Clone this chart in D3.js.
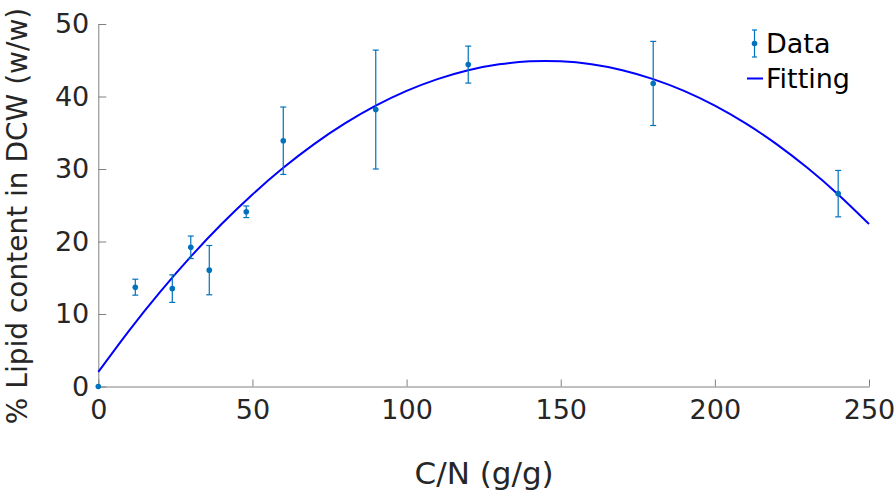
<!DOCTYPE html>
<html><head><meta charset="utf-8">
<script src="https://cdn.jsdelivr.net/npm/d3@7"></script>
<style>body{margin:0;background:#fff}svg{display:block}text{font-family:"DejaVu Sans",sans-serif}</style>
</head><body><svg id="c" width="896" height="493"></svg>
<script>
const cnRatio = [0, 12, 24, 30, 36, 48, 60, 90, 120, 180, 240];
const lipid   = [0, 13.7, 13.5, 19.2, 16.05, 24.1, 33.9, 38.2, 44.4, 41.8, 26.6];
const lipidErr= [0, 1.1, 1.9, 1.55, 3.4, 0.8, 4.65, 8.2, 2.55, 5.8, 3.2];
const fitX = [0,10,20,30,40,50,60,70,80,90,100,110,120,130,140,150,160,170,180,190,200,210,220,230,240,250];
const fitY = [2.01,7.72,13.03,17.92,22.41,26.49,30.16,33.43,36.28,38.73,40.77,42.40,43.63,44.44,44.85,44.85,44.44,43.63,42.40,40.77,38.73,36.28,33.43,30.16,26.49,22.41];
const xTicks = [0,50,100,150,200,250];
const yTicks = [0,10,20,30,40,50];
const legendLabels = ["Data","Fitting"];

const svg = d3.select("#c");
const x = d3.scaleLinear().domain([0,250]).range([98.3,869]);
const y = d3.scaleLinear().domain([0,50]).range([386.5,24]);
const axisCol = "#808080", textCol = "#262626";
const dataCol = "#0072BD", fitCol = "#0000FF";

// axes
const gx = svg.append("g").attr("transform",`translate(0,${y(0)})`)
  .call(d3.axisBottom(x).tickValues(xTicks).tickSize(-7).tickPadding(13).tickSizeOuter(0));
const gy = svg.append("g").attr("transform",`translate(${x(0)},0)`)
  .call(d3.axisLeft(y).tickValues(yTicks).tickSize(-8).tickPadding(9).tickSizeOuter(0));
[gx,gy].forEach(g=>{
  g.select(".domain").attr("stroke",axisCol).attr("stroke-width",1);
  g.selectAll(".tick line").attr("stroke",axisCol).attr("stroke-width",1);
  g.selectAll(".tick text").attr("fill",textCol).attr("font-size",27).attr("font-family","DejaVu Sans");
});
gx.selectAll(".tick text").attr("dy","0.71em");

// fit curve
svg.append("path").datum(fitX.map((v,i)=>[v,fitY[i]]))
  .attr("d", d3.line().x(d=>x(d[0])).y(d=>y(d[1])).curve(d3.curveNatural))
  .attr("fill","none").attr("stroke",fitCol).attr("stroke-width",2);

// error bars + points
const pts = cnRatio.map((v,i)=>({x:v,y:lipid[i],e:lipidErr[i]}));
const eb = svg.append("g").attr("stroke",dataCol).attr("stroke-width",1.2);
pts.filter(d=>d.e>0).forEach(d=>{
  const cx = x(d.x);
  eb.append("line").attr("x1",cx).attr("x2",cx).attr("y1",y(d.y-d.e)).attr("y2",y(d.y+d.e));
  eb.append("line").attr("x1",cx-3).attr("x2",cx+3).attr("y1",y(d.y-d.e)).attr("y2",y(d.y-d.e));
  eb.append("line").attr("x1",cx-3).attr("x2",cx+3).attr("y1",y(d.y+d.e)).attr("y2",y(d.y+d.e));
});
svg.append("g").selectAll("circle").data(pts).join("circle")
  .attr("cx",d=>x(d.x)).attr("cy",d=>y(d.y)).attr("r",2.8).attr("fill",dataCol);

// legend
const lg = svg.append("g");
lg.append("line").attr("x1",754.5).attr("x2",754.5).attr("y1",30).attr("y2",57).attr("stroke",dataCol).attr("stroke-width",1.2);
lg.append("line").attr("x1",752).attr("x2",757).attr("y1",30).attr("y2",30).attr("stroke",dataCol).attr("stroke-width",1.2);
lg.append("line").attr("x1",752).attr("x2",757).attr("y1",57).attr("y2",57).attr("stroke",dataCol).attr("stroke-width",1.2);
lg.append("circle").attr("cx",754.5).attr("cy",43.5).attr("r",2.8).attr("fill",dataCol);
lg.append("line").attr("x1",747).attr("x2",763).attr("y1",78.5).attr("y2",78.5).attr("stroke",fitCol).attr("stroke-width",2);
lg.selectAll("text").data(legendLabels).join("text")
  .attr("x",766).attr("y",(d,i)=>52.5+i*35.5).attr("font-size",27).attr("fill","#000").text(d=>d);

// axis labels
svg.append("text").attr("x",(x(0)+x(250))/2 + 0.5).attr("y",484).attr("text-anchor","middle")
  .attr("font-size",31).attr("fill",textCol).text("C/N (g/g)");
svg.append("text").attr("transform",`translate(27,216) rotate(-90)`).attr("text-anchor","middle")
  .attr("font-size",28).attr("fill",textCol).text("% Lipid content in DCW (w/w)");
</script></body></html>
